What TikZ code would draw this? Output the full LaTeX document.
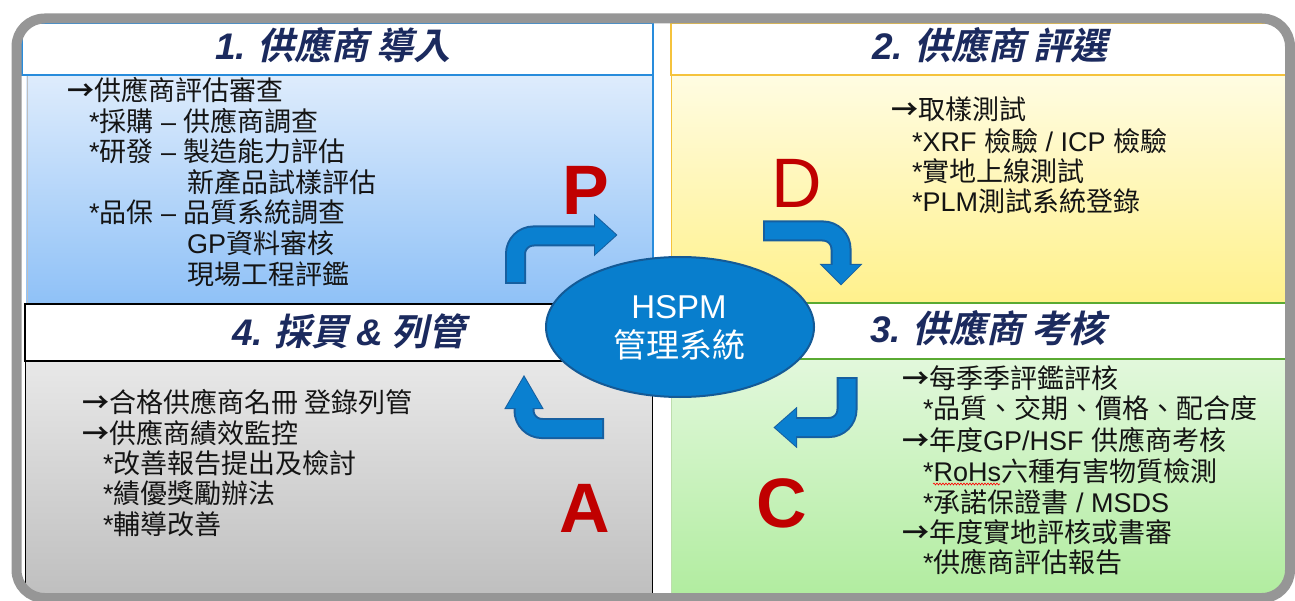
\documentclass[tikz,border=0pt]{standalone}
\usepackage{fontspec}
\setmainfont{Noto Sans CJK TC}
\newfontfamily\latfont{Liberation Sans}
\newfontfamily\latbold{Liberation Sans Bold}
\newfontfamily\arrfont{Noto Sans CJK TC Bold}
\newfontfamily\ttlfont{Noto Sans CJK TC Bold}[FakeSlant=0.22]
\newfontfamily\ttllat{Liberation Sans Bold Italic}
\usetikzlibrary{shapes.geometric,decorations.pathmorphing}
\newcommand\latx[1]{{\latfont #1}}
\newcommand\ttlx[1]{{\ttllat #1}}
\newcommand\rarr{{\arrfont →}}
\definecolor{p1top}{RGB}{222,236,252}
\definecolor{p1bot}{RGB}{143,193,247}
\definecolor{p1line}{RGB}{40,140,220}
\definecolor{p2top}{RGB}{255,252,226}
\definecolor{p2bot}{RGB}{255,241,140}
\definecolor{p2line}{RGB}{245,195,60}
\definecolor{p3top}{RGB}{226,248,220}
\definecolor{p3bot}{RGB}{176,236,158}
\definecolor{p3line}{RGB}{90,170,50}
\definecolor{p4top}{RGB}{232,232,232}
\definecolor{p4bot}{RGB}{190,190,190}
\definecolor{bordergray}{RGB}{150,150,150}
\definecolor{arrfill}{RGB}{10,128,208}
\definecolor{arrline}{RGB}{22,95,160}
\definecolor{hubfill}{RGB}{8,126,205}
\definecolor{hubline}{RGB}{20,90,150}
\definecolor{pdcared}{RGB}{192,0,0}
\definecolor{navy}{RGB}{27,42,94}
\definecolor{txtc}{RGB}{20,20,20}
\tikzset{
  txt/.style={anchor=base west, inner sep=0pt, text=txtc, font=\fontsize{27}{30}\selectfont},
  ttl/.style={anchor=base, inner sep=0pt, text=navy, font=\ttlfont\fontsize{37}{40}\selectfont},
  big/.style={inner sep=0pt, text=pdcared, font=\latbold\fontsize{70}{80}\selectfont},
  arrout/.style={draw=arrline, line width=21pt, rounded corners=18pt},
  arrin/.style={draw=arrfill, line width=17pt, rounded corners=18pt},
  headout/.style={fill=arrline, draw=arrline, line width=2pt},
  headin/.style={fill=arrfill},
}
\begin{document}
\begin{tikzpicture}[x=1pt,y=-1pt]
\useasboundingbox (0,0) rectangle (1295,601);
\begin{scope}
\clip[rounded corners=28pt] (16.5,18.5) rectangle (1290,598);
% panel 1
\fill[white] (18,18) rectangle (653,75);
\shade[top color=p1top, bottom color=p1bot] (26,75) rectangle (653,303);
\draw[p1line, line width=2pt] (22,23) rectangle (653,75);
\draw[p1line, line width=1.5pt] (653,75) -- (653,303);
\draw[black!25, line width=1pt] (27,76) -- (27,303);
% panel 2
\fill[white] (671,18) rectangle (1295,75);
\shade[top color=p2top, bottom color=p2bot] (671,75) rectangle (1295,302);
\draw[p2line, line width=2pt] (671,23) rectangle (1300,75);
\draw[p2line, line width=1pt] (671,75) -- (671,302);
% panel 3
\fill[white] (671,303) rectangle (1295,359);
\shade[top color=p3top, bottom color=p3bot] (671,359) rectangle (1295,601);
\draw[p3line, line width=2.5pt] (660,303) -- (1300,303) (660,359) -- (1300,359);
\draw[p3line!40, line width=1pt] (671,360) -- (671,601);
% panel 4
\fill[white] (25,304) rectangle (652,361);
\shade[top color=p4top, bottom color=p4bot] (25,361) rectangle (652,601);
\draw[black, line width=2.5pt] (25,304) rectangle (652,361);
\draw[black, line width=1pt] (25,361) -- (25,601) (652,361) -- (652,601);
\end{scope}
\draw[bordergray, line width=10pt, rounded corners=28pt] (16.5,18.5) rectangle (1290,598);

% titles
\node[ttl] (t1) at (333,60) {\ttlx{1.} 供應商 導入};
\node[ttl] (t2) at (990,60) {\ttlx{2.} 供應商 評選};
\node[ttl] (t4) at (349,345) {\ttlx{4.} 採買 \ttlx{\&} 列管};
\node[ttl] (t3) at (988,343) {\ttlx{3.} 供應商 考核};

% arrows
% P
\draw[arrout] (515.5,284) -- (515.5,236) -- (598,236);
\filldraw[headout] (595,216) -- (616,235) -- (595,254) -- cycle;
\draw[arrin] (515.5,282) -- (515.5,236) -- (598,236);
\fill[headin] (595,216) -- (616,235) -- (595,254) -- cycle;
% D
\draw[arrout] (763,231) -- (841,231) -- (841,268);
\filldraw[headout] (822,265) -- (841,284) -- (860,265) -- cycle;
\draw[arrin] (765,231) -- (841,231) -- (841,268);
\fill[headin] (822,265) -- (841,284) -- (860,265) -- cycle;
% C
\draw[arrout] (847,377) -- (847,427.5) -- (793,427.5);
\filldraw[headout] (796,409) -- (775,427.5) -- (796,446) -- cycle;
\draw[arrin] (847,379) -- (847,427.5) -- (793,427.5);
\fill[headin] (796,409) -- (775,427.5) -- (796,446) -- cycle;
% A
\draw[arrout] (604,428.5) -- (524,428.5) -- (524,405);
\filldraw[headout] (506,408) -- (524,377) -- (542,408) -- cycle;
\draw[arrin] (602,428.5) -- (524,428.5) -- (524,405);
\fill[headin] (506,408) -- (524,377) -- (542,408) -- cycle;

% letters
\node[big] (lp) at (586,190) {P};
\node[big, font=\latfont\fontsize{70}{80}\selectfont] (ld) at (797,183) {D};
\node[big] (la) at (585,508) {A};
\node[big] (lc) at (782,503) {C};

% hub
\node[ellipse, fill=hubfill, draw=hubline, line width=2pt, minimum width=268pt, minimum height=140pt, inner sep=0pt] (hub) at (680,327) {};
\node[anchor=base, inner sep=0pt, text=white, font=\latfont\fontsize{33}{36}\selectfont] (hspm) at (679,319) {HSPM};
\node[anchor=base, inner sep=0pt, text=white, font=\fontsize{33}{36}\selectfont] (mgmt) at (679,357) {管理系統};

% panel 1 text
\node[txt] (a1) at (67,101) {\rarr 供應商評估審查};
\node[txt] (a2) at (89,132) {\latx{*}採購\latx{ – }供應商調查};
\node[txt] (a3) at (89,162) {\latx{*}研發\latx{ – }製造能力評估};
\node[txt] (a4) at (187,193) {新產品試樣評估};
\node[txt] (a5) at (89,223) {\latx{*}品保\latx{ – }品質系統調查};
\node[txt] (a6) at (187,254) {\latx{GP}資料審核};
\node[txt] (a7) at (187,285) {現場工程評鑑};

% panel 2 text
\node[txt] (b1) at (891,120) {\rarr 取樣測試};
\node[txt] (b2) at (912,152) {\latx{*XRF }檢驗\latx{ / ICP }檢驗};
\node[txt] (b3) at (912,182) {\latx{*}實地上線測試};
\node[txt] (b4) at (912,212) {\latx{*PLM}測試系統登錄};

% panel 4 text
\node[txt] (d1) at (82,412) {\rarr 合格供應商名冊 登錄列管};
\node[txt] (d2) at (82,443) {\rarr 供應商績效監控};
\node[txt] (d3) at (103,473) {\latx{*}改善報告提出及檢討};
\node[txt] (d4) at (103,503) {\latx{*}績優獎勵辦法};
\node[txt] (d5) at (103,534) {\latx{*}輔導改善};

% panel 3 text
\node[txt] (c1) at (902,388) {\rarr 每季季評鑑評核};
\node[txt] (c2) at (923,418) {\latx{*}品質、交期、價格、配合度};
\node[txt] (c3) at (902,450) {\rarr 年度\latx{GP/HSF }供應商考核};
\node[txt] (c4) at (923,481) {\latx{*RoHs}六種有害物質檢測};
\node[txt] (c5) at (923,512) {\latx{*}承諾保證書\latx{ / MSDS}};
\node[txt] (c6) at (902,542) {\rarr 年度實地評核或書審};
\node[txt] (c7) at (923,572) {\latx{*}供應商評估報告};
\draw[red, line width=0.6pt, decorate, decoration={snake, amplitude=1pt, segment length=3pt}] (933,484) -- (1000,484);
\end{tikzpicture}
\end{document}
